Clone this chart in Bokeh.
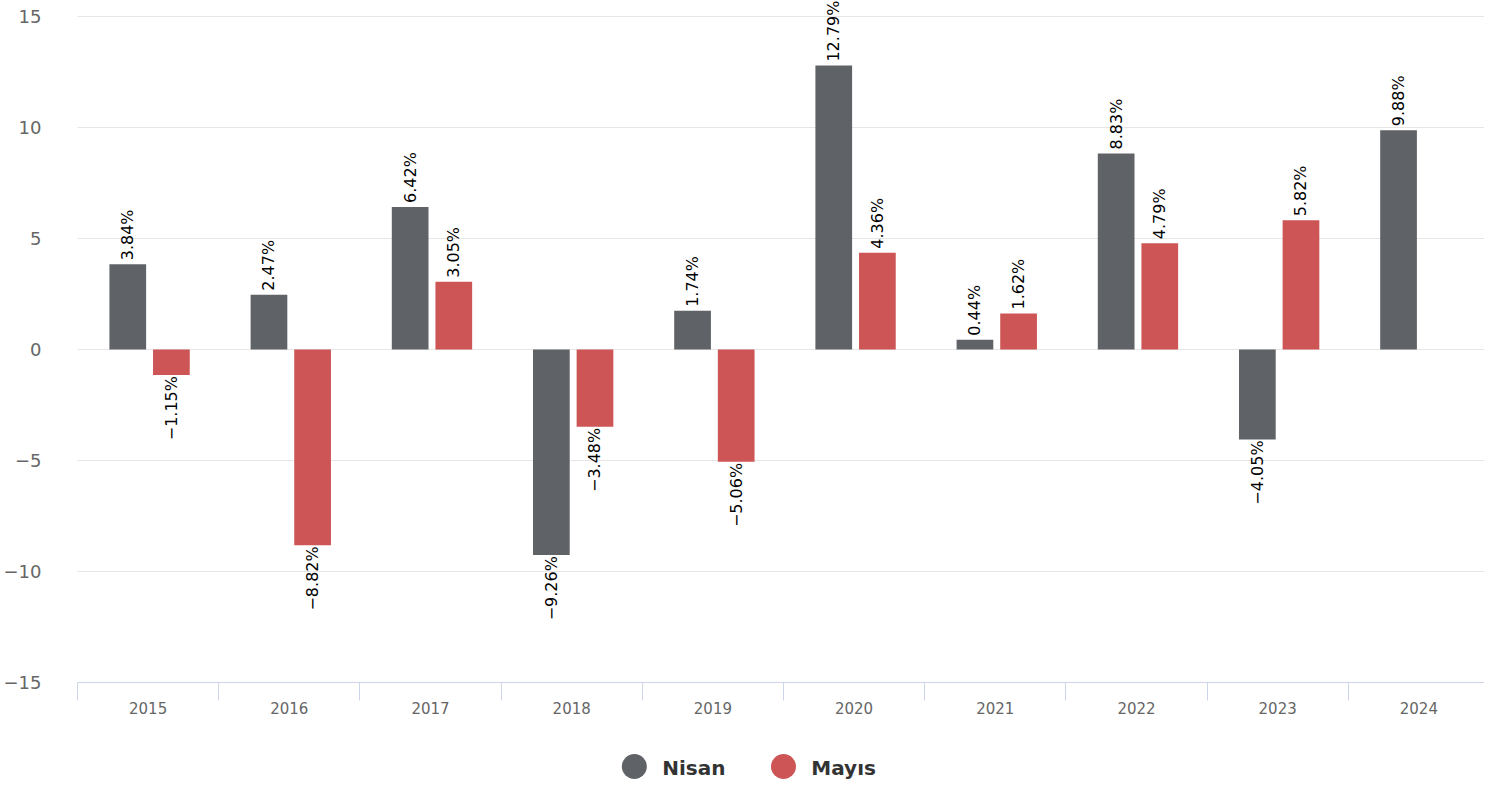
import math
from bokeh.plotting import figure
from bokeh.models import ColumnDataSource, FixedTicker, Range1d
from bokeh.layouts import column
from bokeh.core.properties import value
from bokeh.embed import file_html
from bokeh.resources import INLINE

years = ["2015", "2016", "2017", "2018", "2019", "2020", "2021", "2022", "2023", "2024"]
nisan = [3.84, 2.47, 6.42, -9.26, 1.74, 12.79, 0.44, 8.83, -4.05, 9.88]
mayis = [-1.15, -8.82, 3.05, -3.48, -5.06, 4.36, 1.62, 4.79, 5.82, float("nan")]
series_names = ["Nisan", "Mayıs"]
series_colors = ["#5f6267", "#cd5555"]
y_ticks = [-15, -10, -5, 0, 5, 10, 15]

FONT = "DejaVu Sans"
W = 1484
PX_PER_CAT = 142.0
FRAME_LEFT = 69
FRAME_H = 682
PX_PER_UNIT = 22.2
MAIN_H = 730

p = figure(width=W, height=MAIN_H, output_backend="svg", toolbar_location=None,
           min_border_left=FRAME_LEFT, min_border_right=0, min_border_top=0,
           min_border_bottom=MAIN_H - FRAME_H)
p.x_range = Range1d(0, (W - FRAME_LEFT) / PX_PER_CAT)
p.y_range = Range1d(-15, -15 + FRAME_H / PX_PER_UNIT)
p.outline_line_color = None
p.background_fill_color = "white"
p.border_fill_color = "white"

offsets = [0.356, 0.665]
bar_w = 0.26
for vals, off, color, name in zip([nisan, mayis], offsets, series_colors, series_names):
    xs, tops, labs = [], [], []
    for i, v in enumerate(vals):
        if v is None or (isinstance(v, float) and math.isnan(v)):
            continue
        xs.append(i + off)
        tops.append(v)
        labs.append(f"{v:.2f}%".replace("-", "\u2212"))
    src = ColumnDataSource(dict(x=xs, top=tops, lab=labs))
    p.vbar(x="x", top="top", bottom=0, width=bar_w, source=src,
           fill_color=color, line_color=None)
    pos = ColumnDataSource(dict(x=[x for x, t in zip(xs, tops) if t >= 0],
                                y=[t for t in tops if t >= 0],
                                lab=[l for l, t in zip(labs, tops) if t >= 0]))
    neg = ColumnDataSource(dict(x=[x for x, t in zip(xs, tops) if t < 0],
                                y=[t for t in tops if t < 0],
                                lab=[l for l, t in zip(labs, tops) if t < 0]))
    p.text(x="x", y="y", text="lab", source=pos, angle=math.pi / 2,
           text_align="left", text_baseline="middle", y_offset=-4,
           text_font=value(FONT), text_font_size="16px", text_color="#000000")
    p.text(x="x", y="y", text="lab", source=neg, angle=math.pi / 2,
           text_align="right", text_baseline="middle", y_offset=1,
           text_font=value(FONT), text_font_size="16px", text_color="#000000")

# y axis
p.yaxis.ticker = FixedTicker(ticks=y_ticks)
p.yaxis.major_label_overrides = {t: str(t).replace("-", "\u2212") for t in y_ticks}
p.yaxis.axis_line_color = None
p.yaxis.major_tick_line_color = None
p.yaxis.minor_tick_line_color = None
p.yaxis.major_label_standoff = 30
p.yaxis.major_label_text_font = FONT
p.yaxis.major_label_text_font_size = "18px"
p.yaxis.major_label_text_color = "#666666"
p.ygrid.grid_line_color = "#e6e6e6"
p.ygrid.grid_line_width = 1
p.xgrid.grid_line_color = None

# x axis
centers = [i + 0.5 for i in range(len(years))]
p.xaxis.ticker = FixedTicker(ticks=centers, minor_ticks=list(range(len(years) + 1)))
p.xaxis.major_label_overrides = {c: y for c, y in zip(centers, years)}
p.xaxis.axis_line_color = "#ccd6eb"
p.xaxis.axis_line_width = 1
p.xaxis.major_tick_line_color = None
p.xaxis.major_tick_out = 0
p.xaxis.major_tick_in = 0
p.xaxis.minor_tick_line_color = "#ccd6eb"
p.xaxis.minor_tick_line_width = 1
p.xaxis.minor_tick_out = 18
p.xaxis.minor_tick_in = 0
p.xaxis.major_label_standoff = 1
p.xaxis.major_label_text_font = FONT
p.xaxis.major_label_text_font_size = "15px"
p.xaxis.major_label_text_color = "#666666"

# legend figure (its frame is aligned with the main frame by the column layout)
LG_H = 50
lg = figure(width=W, height=LG_H, output_backend="svg", toolbar_location=None,
            min_border=0, min_border_left=FRAME_LEFT,
            x_range=Range1d(FRAME_LEFT, W), y_range=Range1d(LG_H, 0),
            x_axis_location=None, y_axis_location=None)
lg.outline_line_color = None
lg.grid.visible = False
lg.border_fill_color = "white"
leg_x0 = 629
leg_step = 150
leg_y = 36
lx = [leg_x0 + k * leg_step for k in range(len(series_names))]
lg.scatter(x=lx, y=[leg_y] * len(lx), size=25, marker="circle",
           fill_color=series_colors, line_color=None)
lg.text(x=[x + 28 for x in lx], y=[leg_y + 1] * len(lx), text=series_names,
        text_align="left", text_baseline="middle", text_font=value(FONT),
        text_font_size="20px", text_font_style="bold", text_color="#333333")

layout = column(p, lg, spacing=0)
open("out.html", "w").write(file_html(layout, INLINE))
